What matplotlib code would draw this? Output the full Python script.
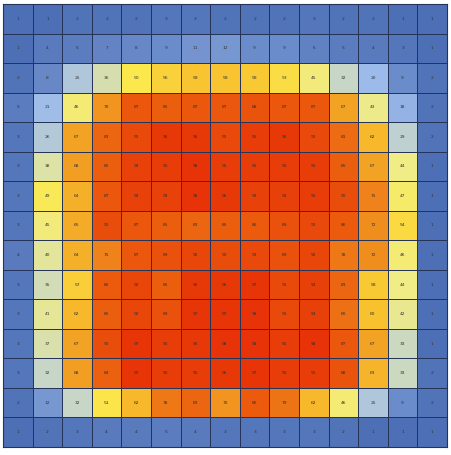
import matplotlib

matplotlib.use("Agg")

import matplotlib.pyplot as plt
import numpy as np
from matplotlib.colors import LinearSegmentedColormap

# 15 x 15 grid of values (top to bottom)
ROW_00 = [1, 1, 2, 2, 2, 3, 3, 2, 2, 2, 3, 2, 2, 1, 1]
ROW_01 = [1, 4, 5, 7, 8, 9, 11, 12, 9, 9, 6, 5, 4, 3, 1]
ROW_02 = [2, 8, 25, 36, 50, 56, 59, 59, 58, 53, 45, 32, 20, 9, 2]
ROW_03 = [5, 21, 46, 70, 87, 85, 87, 87, 88, 87, 87, 67, 43, 18, 2]
ROW_04 = [3, 26, 67, 83, 91, 96, 96, 91, 95, 96, 91, 81, 62, 29, 2]
ROW_05 = [3, 38, 68, 85, 93, 95, 98, 95, 95, 95, 95, 85, 67, 44, 1]
ROW_06 = [3, 49, 64, 87, 93, 93, 98, 96, 93, 94, 95, 90, 75, 47, 1]
ROW_07 = [3, 45, 65, 90, 87, 85, 83, 85, 86, 89, 91, 86, 72, 54, 1]
ROW_08 = [4, 40, 64, 75, 87, 89, 92, 90, 91, 89, 92, 78, 72, 46, 1]
ROW_09 = [3, 35, 57, 86, 92, 85, 96, 96, 97, 91, 94, 83, 58, 44, 1]
ROW_10 = [3, 41, 62, 85, 92, 89, 97, 97, 98, 91, 94, 80, 60, 42, 1]
ROW_11 = [3, 37, 67, 90, 97, 95, 96, 98, 98, 95, 98, 87, 67, 33, 1]
ROW_12 = [3, 32, 68, 84, 97, 95, 95, 96, 97, 95, 95, 88, 63, 33, 2]
ROW_13 = [2, 12, 32, 51, 62, 78, 83, 70, 86, 79, 62, 46, 25, 9, 2]
ROW_14 = [1, 2, 3, 4, 4, 5, 4, 3, 3, 3, 3, 2, 1, 1, 1]

ROWS = [ROW_00, ROW_01, ROW_02, ROW_03, ROW_04, ROW_05, ROW_06, ROW_07,
        ROW_08, ROW_09, ROW_10, ROW_11, ROW_12, ROW_13, ROW_14]

# blue -> yellow -> red scale, like a spreadsheet colour rule
CMAP = LinearSegmentedColormap.from_list(
    "blue_yellow_red",
    [
        (0.00, "#4a6cb3"),
        (0.10, "#6f8fcc"),
        (0.20, "#9dbbea"),
        (0.32, "#c9d7c6"),
        (0.44, "#f0ec86"),
        (0.50, "#fbe94e"),
        (0.60, "#f8c12e"),
        (0.70, "#f19620"),
        (0.85, "#eb5e0e"),
        (1.00, "#e62c06"),
    ],
)
LINE = "#26345a"
TEXT = "#333333"

data = np.array(ROWS, dtype=float)
n_rows, n_cols = data.shape

fig = plt.figure(figsize=(4.51, 4.55), dpi=100)
ax = fig.add_axes([3 / 451, 1 - 447 / 455, 444 / 451, 443 / 455])
ax.pcolormesh(data, cmap=CMAP, vmin=0, vmax=100, edgecolors=LINE, linewidth=0.6)
ax.set_xlim(0, n_cols)
ax.set_ylim(n_rows, 0)
ax.set_xticks([])
ax.set_yticks([])
for spine in ax.spines.values():
    spine.set_color(LINE)
    spine.set_linewidth(0.8)

for i in range(n_rows):
    for j in range(n_cols):
        ax.text(j + 0.5, i + 0.5, f"{int(data[i, j])}", ha="center", va="center",
                fontsize=3.2, color=TEXT)

fig.savefig("out.png", dpi=100, facecolor="white")
